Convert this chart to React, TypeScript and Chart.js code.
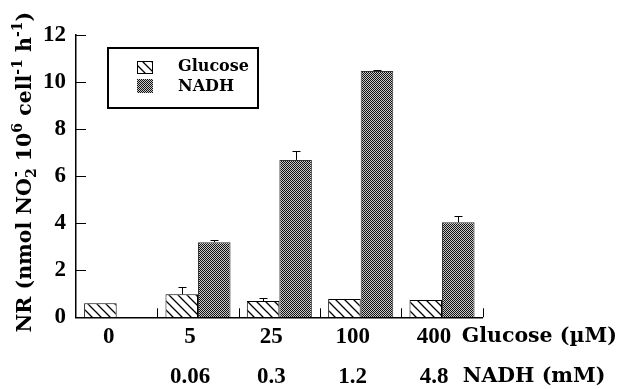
import React, { useEffect, useRef } from "react";
import { Chart, registerables } from "chart.js";

Chart.register(...registerables);

// ---- data ----
const glucoseConc = ["0", "5", "25", "100", "400"];
const nadhConc = ["", "0.06", "0.3", "1.2", "4.8"];
const seriesNames = ["Glucose", "NADH"];
const glucoseNR = [0.6, 0.98, 0.69, 0.78, 0.74];
const glucoseErr = [0, 0.29, 0.12, 0, 0];
const nadhNR: (number | null)[] = [null, 3.19, 6.69, 10.47, 4.04];
const nadhErr: (number | null)[] = [null, 0.08, 0.38, 0.04, 0.27];
const yTicks = [0, 2, 4, 6, 8, 10, 12];
const unitLabels = ["Glucose (\u00b5M)", "NADH (mM)"];
const titleSegments: [string, "n" | "sub" | "sup" | "stack"][] = [
  ["NR (nmol NO", "n"],
  ["2", "sub"],
  ["-", "stack"],
  [" 10", "n"],
  ["6", "sup"],
  [" cell", "n"],
  ["-1", "sup"],
  [" h", "n"],
  ["-1", "sup"],
  [")", "n"],
];

const DIG = '"Liberation Serif", "Times New Roman", serif';
const WRD = '"DejaVu Serif", serif';

function makeHatch(): CanvasPattern | string {
  const c = document.createElement("canvas");
  c.width = 9;
  c.height = 9;
  const g = c.getContext("2d");
  if (!g) return "#fff";
  g.fillStyle = "#fff";
  g.fillRect(0, 0, 9, 9);
  g.strokeStyle = "#000";
  g.lineWidth = 1.3;
  g.beginPath();
  for (const o of [-9, 0, 9]) {
    g.moveTo(o - 1, -1);
    g.lineTo(o + 10, 10);
  }
  g.stroke();
  return g.createPattern(c, "repeat") || "#fff";
}

function makeStipple(): CanvasPattern | string {
  const c = document.createElement("canvas");
  c.width = 2;
  c.height = 2;
  const g = c.getContext("2d");
  if (!g) return "#777";
  g.fillStyle = "#c8c8c8";
  g.fillRect(0, 0, 2, 2);
  g.fillStyle = "#111";
  g.fillRect(0, 0, 1, 1);
  g.fillRect(1, 1, 1, 1);
  return g.createPattern(c, "repeat") || "#777";
}

export default function App() {
  const ref = useRef<HTMLCanvasElement | null>(null);

  useEffect(() => {
    if (!ref.current) return;
    const hatch = makeHatch();
    const stipple = makeStipple();

    const decor = {
      id: "decor",
      afterDatasetsDraw(chart: any) {
        const { ctx, chartArea: ca, scales } = chart;
        const x = scales.x;
        const y = scales.y;
        ctx.save();
        ctx.strokeStyle = "#000";
        ctx.lineWidth = 1;
        // error bars (upper only)
        const vals = [glucoseNR, nadhNR];
        const errs = [glucoseErr, nadhErr];
        errs.forEach((err, di) => {
          const meta = chart.getDatasetMeta(di);
          err.forEach((e, i) => {
            const v = vals[di][i];
            if (v == null || !e) return;
            const bx = Math.round(meta.data[i].x) + 0.5;
            const y0 = y.getPixelForValue(v);
            const y1 = Math.round(y.getPixelForValue(v + e)) + 0.5;
            ctx.beginPath();
            ctx.moveTo(bx, y0);
            ctx.lineTo(bx, y1);
            ctx.moveTo(bx - 4, y1);
            ctx.lineTo(bx + 4, y1);
            ctx.stroke();
          });
        });
        // inward y ticks
        yTicks.forEach((t) => {
          const py = Math.round(y.getPixelForValue(t)) + 0.5;
          ctx.beginPath();
          ctx.moveTo(ca.left, py);
          ctx.lineTo(ca.left + 10, py);
          ctx.stroke();
        });
        // x boundary ticks
        const n = glucoseConc.length;
        const w = x.getPixelForValue(1) - x.getPixelForValue(0);
        for (let i = 0; i < n; i++) {
          const px = Math.round(x.getPixelForValue(i) + w / 2) + 0.5;
          ctx.beginPath();
          ctx.moveTo(px, ca.bottom);
          ctx.lineTo(px, ca.bottom - 9);
          ctx.stroke();
        }
        ctx.restore();
      },
      afterDraw(chart: any) {
        const { ctx, chartArea: ca } = chart;
        ctx.save();
        // unit labels at end of x rows
        ctx.fillStyle = "#000";
        ctx.textBaseline = "middle";
        ctx.textAlign = "left";
        ctx.font = `bold 20.5px ${WRD}`;
        ctx.fillText(unitLabels[0], ca.right - 21, ca.bottom + 19.5);
        ctx.fillText(unitLabels[1], ca.right - 20, ca.bottom + 59);

        // legend box
        const lx = ca.left + 32;
        const ly = ca.top + 13;
        ctx.fillStyle = "#fff";
        ctx.fillRect(lx, ly, 150, 60);
        ctx.strokeStyle = "#000";
        ctx.lineWidth = 2;
        ctx.strokeRect(lx, ly, 150, 60);
        ctx.fillStyle = hatch as any;
        ctx.fillRect(ca.left + 61, ca.top + 26, 16, 13);
        ctx.lineWidth = 1;
        ctx.strokeRect(ca.left + 61.5, ca.top + 26.5, 15, 12);
        ctx.fillStyle = stipple as any;
        ctx.fillRect(ca.left + 61, ca.top + 44, 16, 14);
        ctx.fillStyle = "#000";
        ctx.font = `bold 16px ${WRD}`;
        ctx.fillText(seriesNames[0], ca.left + 102, ca.top + 32);
        ctx.fillText(seriesNames[1], ca.left + 102, ca.top + 52);

        // y axis title with sub/superscripts
        const fs = 20.5;
        const sfs = 14;
        const measure = () => {
          let total = 0;
          let lastSub = 0;
          titleSegments.forEach(([t, k]) => {
            ctx.font = `bold ${k === "n" ? fs : sfs}px ${WRD}`;
            const mw = ctx.measureText(t).width;
            if (k === "sub") {
              lastSub = mw;
              total += mw;
            } else if (k === "stack") {
              total += Math.max(0, mw - lastSub);
            } else total += mw;
          });
          return total;
        };
        const total = measure();
        ctx.translate(31, (ca.top + ca.bottom) / 2 - 4);
        ctx.rotate(-Math.PI / 2);
        ctx.textBaseline = "alphabetic";
        ctx.textAlign = "left";
        let cx = -total / 2;
        let subStart = 0;
        titleSegments.forEach(([t, k]) => {
          ctx.font = `bold ${k === "n" ? fs : sfs}px ${WRD}`;
          const mw = ctx.measureText(t).width;
          if (k === "n") {
            ctx.fillText(t, cx, 0);
            cx += mw;
          } else if (k === "sub") {
            subStart = cx;
            ctx.fillText(t, cx, 5);
            cx += mw;
          } else if (k === "stack") {
            ctx.fillText(t, subStart + 1, -11);
            cx = Math.max(cx, subStart + mw);
          } else {
            ctx.fillText(t, cx, -9);
            cx += mw;
          }
        });
        ctx.restore();
      },
    };

    const labels = glucoseConc.map((g, i) => [g, nadhConc[i]]);

    const chart = new Chart(ref.current, {
      type: "bar",
      data: {
        labels,
        datasets: [
          {
            label: seriesNames[0],
            data: glucoseNR,
            backgroundColor: hatch as any,
            borderColor: "#000",
            borderWidth: 1,
            borderSkipped: "bottom",
          },
          {
            label: seriesNames[1],
            data: nadhNR,
            backgroundColor: stipple as any,
            borderColor: "#333",
            borderWidth: 1,
            borderSkipped: "bottom",
          },
        ],
      },
      options: {
        responsive: false,
        animation: false,
        events: [],
        layout: { padding: { left: 0, right: 135.3, top: 35, bottom: 0 } },
        datasets: { bar: { categoryPercentage: 0.8, barPercentage: 1.0 } },
        plugins: { legend: { display: false }, tooltip: { enabled: false }, title: { display: false } },
        scales: {
          x: {
            grid: { display: false, drawTicks: false },
            border: { display: true, color: "#000", width: 1.5 },
            ticks: {
              color: "#000",
              padding: 0,
              labelOffset: -8,
              maxRotation: 0,
              autoSkip: false,
              font: { family: DIG, size: 23, weight: "bold", lineHeight: 1.72 },
            },
            afterFit: (s: any) => {
              s.height = 71.7;
            },
          },
          y: {
            min: 0,
            max: 12,
            grid: { display: false, drawTicks: false },
            border: { display: true, color: "#000", width: 1.5 },
            ticks: {
              stepSize: 2,
              color: "#000",
              padding: 10,
              font: { family: DIG, size: 23, weight: "bold" },
            },
            afterFit: (s: any) => {
              s.width = 76;
            },
          },
        },
      },
      plugins: [decor],
    } as any);
    return () => chart.destroy();
  }, []);

  return (
    <div style={{ position: "absolute", left: 0, top: 0, width: 618, height: 389, background: "#fff" }}>
      <canvas ref={ref} width={618} height={389} style={{ display: "block" }} />
    </div>
  );
}
